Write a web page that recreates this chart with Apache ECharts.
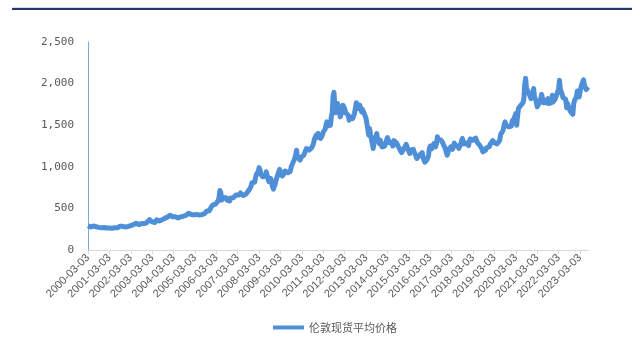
<!DOCTYPE html>
<html><head><meta charset="utf-8">
<script src="https://cdn.jsdelivr.net/npm/echarts@6/dist/echarts.min.js"></script>
<style>html,body{margin:0;padding:0;background:#fff}#c{width:640px;height:341px}</style>
</head><body><div id="c"></div>
<script>
// London spot average price, two readings per month (day 03 and day 18)
const startYear = 2000, startMonth = 3;
const gold2000 = [292,285,283,278,275,272,288,290,285,280,276,274,272,271,270,268,265,268,270,273];
const gold2001 = [267,264,262,258,265,262,258,262,270,275,268,270,267,268,272,274,285,290,280,285,276,274,276,279];
const gold2002 = [281,283,295,300,294,292,302,305,312,318,322,318,314,306,308,312,318,322,316,318,319,320,330,342];
const gold2003 = [352,365,372,350,338,330,328,330,350,362,355,348,348,352,358,362,378,385,380,378,390,395,405,412];
const gold2004 = [418,410,405,400,400,410,400,395,380,386,390,394,398,400,400,405,405,410,418,425,438,442,445,438];
const gold2005 = [425,422,423,425,432,440,428,432,424,420,428,435,425,422,435,440,450,465,470,468,472,485,510,505];
const gold2006 = [540,560,560,552,555,560,590,630,715,690,600,585,630,640,635,628,600,590,585,590,625,630,630,628];
const gold2007 = [625,635,660,670,650,660,680,685,670,665,655,650,665,670,660,670,710,720,745,770,810,800,800,815];
const gold2008 = [870,910,910,940,990,960,910,900,880,890,885,890,940,955,850,820,800,860,880,760,730,760,790,840];
const gold2009 = [860,850,940,970,920,930,890,880,920,950,950,930,930,940,950,945,1000,1005,1050,1045,1100,1140,1200,1120];
const gold2010 = [1130,1120,1080,1110,1120,1105,1140,1150,1190,1220,1240,1230,1200,1180,1200,1230,1250,1280,1330,1350,1380,1350,1400,1380];
const gold2011 = [1370,1340,1360,1380,1420,1430,1450,1500,1540,1490,1530,1520,1500,1600,1650,1850,1895,1720,1650,1680,1760,1720,1700,1600];
const gold2012 = [1600,1660,1740,1760,1700,1650,1640,1640,1620,1560,1600,1590,1590,1580,1600,1640,1700,1770,1790,1740,1700,1740,1700,1660];
const gold2013 = [1690,1680,1670,1610,1580,1600,1560,1380,1460,1380,1390,1280,1220,1290,1310,1370,1400,1310,1310,1280,1320,1270,1240,1220];
const gold2014 = [1230,1250,1260,1320,1350,1330,1290,1300,1300,1290,1250,1315,1320,1300,1290,1300,1270,1225,1210,1240,1170,1190,1210,1195];
const gold2015 = [1190,1270,1280,1210,1200,1160,1200,1200,1180,1210,1180,1180,1160,1100,1090,1120,1140,1120,1140,1170,1110,1080,1055,1070];
const gold2016 = [1080,1090,1130,1220,1250,1240,1220,1250,1280,1260,1240,1280,1360,1330,1350,1340,1320,1320,1290,1260,1280,1220,1170,1140];
const gold2017 = [1160,1210,1220,1240,1240,1210,1250,1285,1250,1230,1270,1250,1220,1240,1270,1290,1340,1310,1275,1280,1275,1285,1270,1255];
const gold2018 = [1310,1335,1345,1330,1320,1315,1330,1345,1315,1290,1295,1270,1250,1230,1215,1180,1195,1200,1200,1225,1230,1220,1240,1250];
const gold2019 = [1285,1290,1315,1330,1290,1305,1290,1275,1280,1285,1320,1390,1410,1425,1450,1510,1540,1500,1490,1495,1480,1465,1470,1490];
const gold2020 = [1550,1560,1580,1610,1640,1500,1610,1700,1700,1730,1725,1730,1770,1810,1990,2065,1940,1950,1900,1910,1890,1820,1840,1870];
const gold2021 = [1940,1840,1850,1780,1720,1730,1730,1780,1800,1870,1890,1770,1800,1810,1770,1780,1820,1760,1760,1770,1770,1860,1780,1800];
const gold2022 = [1810,1820,1800,1900,1930,2040,1930,1950,1870,1830,1850,1840,1810,1710,1760,1770,1700,1670,1680,1650,1630,1760,1800,1790];
const gold2023 = [1840,1910,1920,1840,1820,1950,1990,2000,2045,1980,1960,1930,1920,1960];
const goldValues = [].concat(gold2000,gold2001,gold2002,gold2003,gold2004,gold2005,gold2006,gold2007,gold2008,gold2009,gold2010,gold2011,gold2012,gold2013,gold2014,gold2015,gold2016,gold2017,gold2018,gold2019,gold2020,gold2021,gold2022,gold2023);
const seriesName = '伦敦现货平均价格';
const yMin = 0, yMax = 2500, yStep = 500;

const pad = n => (n < 10 ? '0' : '') + n;
const categories = [];
for (let i = 0; i < goldValues.length; i++) {
  const m = startMonth - 1 + Math.floor(i / 2);
  const y = startYear + Math.floor(m / 12);
  const mo = (m % 12) + 1;
  categories.push(y + '-' + pad(mo) + '-' + (i % 2 === 0 ? '03' : '18'));
}

const chart = echarts.init(document.getElementById('c'), null, {renderer: 'canvas'});
chart.setOption({
  animation: false,
  backgroundColor: '#ffffff',
  grid: {left: 88, right: 52, top: 42, bottom: 91, containLabel: false},
  graphic: [
    {type: 'rect', shape: {x: 12, y: 7, width: 620, height: 1}, style: {fill: '#cfe0f3'}},
    {type: 'rect', shape: {x: 12, y: 8, width: 620, height: 2}, style: {fill: '#253a6b'}}
  ],
  legend: {
    data: [{name: seriesName, icon: 'rect'}],
    left: 268, top: 317,
    itemWidth: 31, itemHeight: 4, itemGap: 10,
    textStyle: {fontFamily: 'Noto Sans CJK SC', fontSize: 11, color: '#595959'}
  },
  xAxis: {
    type: 'category', data: categories, boundaryGap: false,
    axisLine: {lineStyle: {color: '#d9d9d9', width: 1}},
    axisTick: {show: true, interval: 23, length: 4, lineStyle: {color: '#d9d9d9'}},
    axisLabel: {interval: 23, rotate: 45, fontSize: 11, color: '#595959', margin: 6, fontFamily: 'Liberation Sans'},
    splitLine: {show: false}
  },
  yAxis: {
    type: 'value', min: yMin, max: yMax, interval: yStep,
    axisLine: {show: true, lineStyle: {color: '#7aa7dc', width: 1}},
    axisTick: {show: false},
    splitLine: {show: false},
    axisLabel: {fontSize: 11, color: '#595959', margin: 14, fontFamily: 'DejaVu Sans Mono',
      formatter: v => v.toLocaleString('en-US')}
  },
  series: [{
    name: seriesName, type: 'line', data: goldValues,
    showSymbol: false, symbol: 'none', smooth: false,
    lineStyle: {color: '#4f8fd8', width: 5, join: 'round'},
    itemStyle: {color: '#4f8fd8'}
  }]
});
</script></body></html>
